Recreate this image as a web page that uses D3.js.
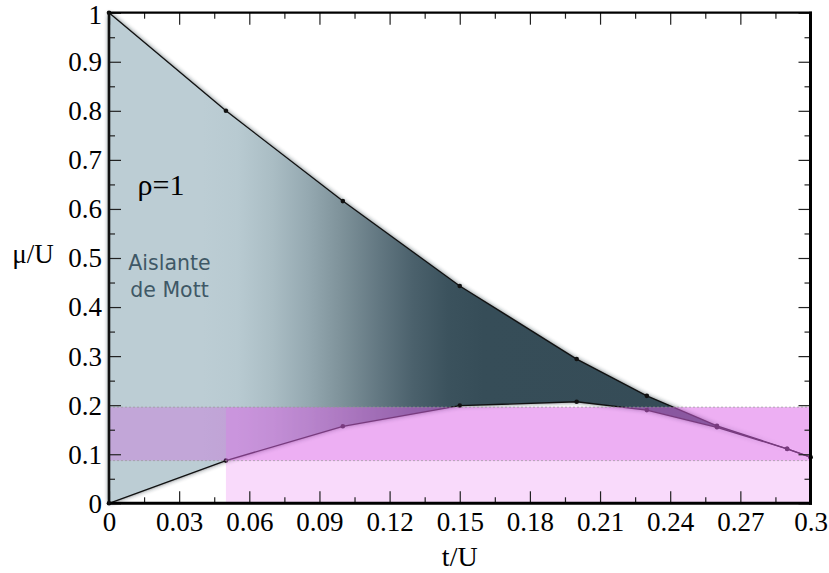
<!DOCTYPE html>
<html><head><meta charset="utf-8">
<script src="https://cdn.jsdelivr.net/npm/d3@7/dist/d3.min.js"></script>
</head>
<body style="margin:0">
<div id="wrap"></div>
<script>
// ---- data ----
const tUpper  = [0, 0.05, 0.10, 0.15, 0.20, 0.23, 0.26, 0.29, 0.30];
const muUpper = [1, 0.800, 0.616, 0.443, 0.294, 0.219, 0.158, 0.111, 0.094];
const tLower  = [0, 0.05, 0.10, 0.15, 0.20, 0.23, 0.26, 0.29, 0.30];
const muLower = [0, 0.087, 0.157, 0.199, 0.207, 0.190, 0.155, 0.111, 0.094];
const bandMu  = [0.087, 0.196];          // horizontal band (full width)
const rectT   = [0.05, 0.30];            // pink rectangle t-range
const rectMu  = [0, 0.196];              // pink rectangle mu-range
const xTicks  = [0, 0.03, 0.06, 0.09, 0.12, 0.15, 0.18, 0.21, 0.24, 0.27, 0.30];
const xTickLabels = ["0","0.03","0.06","0.09","0.12","0.15","0.18","0.21","0.24","0.27","0.3"];
const xMinor  = [0.015, 0.045, 0.075, 0.105, 0.135, 0.165, 0.195, 0.225, 0.255, 0.285];
const yTicks  = [0, 0.1, 0.2, 0.3, 0.4, 0.5, 0.6, 0.7, 0.8, 0.9, 1];
const yTickLabels = ["0","0.1","0.2","0.3","0.4","0.5","0.6","0.7","0.8","0.9","1"];
const yMinor  = [0.05, 0.15, 0.25, 0.35, 0.45, 0.55, 0.65, 0.75, 0.85, 0.95];
const gradStops = [ // [t, colour]
  [0, "#bccdd4"], [0.04, "#bccdd4"], [0.055, "#b8cad1"], [0.07, "#aabdc4"], [0.085, "#95a9b1"],
  [0.10, "#7d9199"], [0.115, "#637882"], [0.13, "#4b616c"], [0.145, "#3b525d"], [0.16, "#364d58"], [0.30, "#354b56"]];

// ---- layout ----
const L = 109, R = 810.5, T = 12.7, B = 503.3;
const svg = d3.select("#wrap").append("svg").attr("width", 829).attr("height", 573)
  .attr("font-family", "Liberation Serif");
svg.append("style").text('text{font-family:"Liberation Serif",serif;} text.ann{font-family:"DejaVu Sans",sans-serif;}');
const x = d3.scaleLinear().domain([0, 0.3]).range([L, R]);
const y = d3.scaleLinear().domain([0, 1]).range([B, T]);

const defs = svg.append("defs");
const grad = defs.append("linearGradient").attr("id", "g")
  .attr("gradientUnits", "userSpaceOnUse")
  .attr("x1", x(0)).attr("x2", x(0.3)).attr("y1", 0).attr("y2", 0);
gradStops.forEach(s => grad.append("stop").attr("offset", s[0] / 0.3).attr("stop-color", s[1]));
const f = defs.append("filter").attr("id", "blur").attr("x", "-10%").attr("y", "-10%").attr("width", "120%").attr("height", "120%");
f.append("feGaussianBlur").attr("stdDeviation", 2.6);

const upper = tUpper.map((t, i) => [t, muUpper[i]]);
const lower = tLower.map((t, i) => [t, muLower[i]]);
const poly = upper.concat(lower.slice().reverse());
const line = d3.line().x(d => x(d[0])).y(d => y(d[1]));

svg.append("path").attr("d", line(poly) + "Z").attr("fill", "#1c2a30").attr("opacity", 0.85).attr("filter", "url(#blur)");
svg.append("path").attr("d", line(poly) + "Z").attr("fill", "url(#g)");
svg.append("path").attr("d", line(upper)).attr("fill", "none").attr("stroke", "#111").attr("stroke-width", 1.3);
svg.append("path").attr("d", line(lower)).attr("fill", "none").attr("stroke", "#111").attr("stroke-width", 1.3);
svg.selectAll("circle.p").data(upper.concat(lower)).join("circle")
  .attr("cx", d => x(d[0])).attr("cy", d => y(d[1])).attr("r", 2.3).attr("fill", "#111");

svg.append("rect").attr("x", x(rectT[0])).attr("width", x(rectT[1]) - x(rectT[0]))
  .attr("y", y(rectMu[1])).attr("height", y(rectMu[0]) - y(rectMu[1]))
  .attr("fill", "rgb(235,132,242)").attr("opacity", 0.3);
svg.append("rect").attr("x", x(0)).attr("width", x(0.3) - x(0))
  .attr("y", y(bandMu[1])).attr("height", y(bandMu[0]) - y(bandMu[1]))
  .attr("fill", "rgb(208,76,226)").attr("opacity", 0.3);
bandMu.forEach(m => svg.append("line").attr("x1", x(0)).attr("x2", x(0.3)).attr("y1", y(m)).attr("y2", y(m))
  .attr("stroke", "#999").attr("stroke-opacity", 0.7).attr("stroke-width", 1).attr("stroke-dasharray", "2,2"));

function styleAxis(g) {
  g.attr("font-family", "Liberation Serif").attr("font-size", 27);
  g.select(".domain").remove();
  g.selectAll(".tick line").attr("stroke", "#222").attr("stroke-width", 1.2);
  g.selectAll("text").attr("font-family", "Liberation Serif").attr("font-size", 27).attr("fill", "#000");
}
svg.append("g").attr("transform", `translate(0,${B})`)
  .call(d3.axisBottom(x).tickValues(xTicks).tickFormat((d, i) => xTickLabels[i]).tickSize(-12).tickPadding(8.5)).call(styleAxis);
svg.append("g").attr("transform", `translate(0,${B})`)
  .call(d3.axisBottom(x).tickValues(xMinor).tickFormat("").tickSize(-6)).call(styleAxis);
svg.append("g").attr("transform", `translate(0,${T})`)
  .call(d3.axisTop(x).tickValues(xTicks).tickFormat("").tickSize(-12)).call(styleAxis);
svg.append("g").attr("transform", `translate(0,${T})`)
  .call(d3.axisTop(x).tickValues(xMinor).tickFormat("").tickSize(-6)).call(styleAxis);
const yl = svg.append("g").attr("transform", `translate(${L},0)`)
  .call(d3.axisLeft(y).tickValues(yTicks).tickFormat((d, i) => yTickLabels[i]).tickSize(-12).tickPadding(7)).call(styleAxis);
yl.selectAll("text").attr("dy", "0.33em");
yl.selectAll(".tick").filter(d => d === 1).select("text").attr("dy", "0.4em");
svg.append("g").attr("transform", `translate(${L},0)`)
  .call(d3.axisLeft(y).tickValues(yMinor).tickFormat("").tickSize(-6)).call(styleAxis);
svg.append("g").attr("transform", `translate(${R},0)`)
  .call(d3.axisRight(y).tickValues(yTicks).tickFormat("").tickSize(-12)).call(styleAxis);
svg.append("g").attr("transform", `translate(${R},0)`)
  .call(d3.axisRight(y).tickValues(yMinor).tickFormat("").tickSize(-6)).call(styleAxis);

svg.append("line").attr("x1", L - 1).attr("x2", R + 1.5).attr("y1", T).attr("y2", T).attr("stroke", "#000").attr("stroke-width", 2.2);
svg.append("line").attr("x1", L - 1.5).attr("x2", R + 1.5).attr("y1", B).attr("y2", B).attr("stroke", "#000").attr("stroke-width", 3);
svg.append("line").attr("x1", L).attr("x2", L).attr("y1", T - 1).attr("y2", B + 1.5).attr("stroke", "#111").attr("stroke-width", 2.6);
svg.append("line").attr("x1", R).attr("x2", R).attr("y1", T - 1).attr("y2", B + 1.5).attr("stroke", "#000").attr("stroke-width", 3);

svg.append("text").attr("x", 33).attr("y", 263).attr("text-anchor", "middle")
  .attr("font-family", "Liberation Serif").attr("font-size", 27).text("μ/U");
svg.append("text").attr("x", x(0.15)).attr("y", 566).attr("text-anchor", "middle")
  .attr("font-family", "Liberation Serif").attr("font-size", 28).text("t/U");

svg.append("text").attr("x", 161).attr("y", 195).attr("text-anchor", "middle")
  .attr("font-family", "Liberation Serif").attr("font-size", 30).text("ρ=1");
const ann = svg.append("text").attr("class", "ann").attr("text-anchor", "middle")
  .attr("font-family", "DejaVu Sans").attr("font-size", 20.5).attr("fill", "#3f5866");
ann.append("tspan").attr("x", 169.5).attr("y", 270).text("Aislante");
ann.append("tspan").attr("x", 169.5).attr("y", 297).text("de Mott");
</script>
</body></html>
